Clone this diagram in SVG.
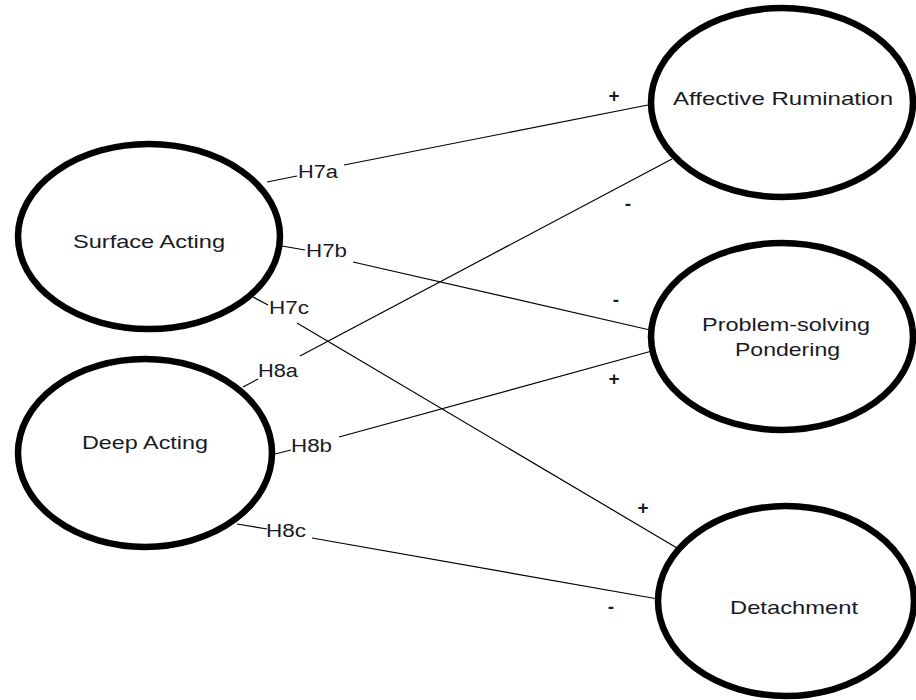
<svg xmlns="http://www.w3.org/2000/svg" width="916" height="700" viewBox="0 0 916 700">
<style>
.node ellipse{fill:#fff;stroke:#000;stroke-width:6.5}
text{font-family:"Liberation Sans",Arial,sans-serif;font-size:18.5px;fill:#1a1a24}
.lbl{font-size:18px}
.sg{font-size:19px;font-weight:bold}
.conn line{stroke:#000;stroke-width:1.2}
</style>
<rect width="916" height="700" fill="#fff"/>
<g id="connectors" class="conn">
<line x1="267" y1="182" x2="297" y2="176"/>
<line x1="344" y1="165" x2="648" y2="105"/>
<line x1="282" y1="246" x2="305" y2="250"/>
<line x1="353" y1="262" x2="650" y2="330"/>
<line x1="253" y1="297" x2="268" y2="305"/>
<line x1="297" y1="323" x2="677" y2="548"/>
<line x1="243" y1="387" x2="258" y2="379"/>
<line x1="300" y1="356" x2="672" y2="159"/>
<line x1="275" y1="454" x2="291" y2="450"/>
<line x1="339" y1="437" x2="652" y2="351"/>
<line x1="237" y1="524" x2="267" y2="529"/>
<line x1="312" y1="538" x2="658" y2="599"/>
<text class="lbl" x="298" y="178" textLength="40" lengthAdjust="spacingAndGlyphs">H7a</text>
<text class="lbl" x="306" y="257" textLength="41" lengthAdjust="spacingAndGlyphs">H7b</text>
<text class="lbl" x="269" y="314" textLength="40" lengthAdjust="spacingAndGlyphs">H7c</text>
<text class="lbl" x="258" y="377" textLength="40" lengthAdjust="spacingAndGlyphs">H8a</text>
<text class="lbl" x="291" y="452" textLength="41" lengthAdjust="spacingAndGlyphs">H8b</text>
<text class="lbl" x="266" y="537" textLength="40" lengthAdjust="spacingAndGlyphs">H8c</text>
<text class="sg" x="614" y="102" text-anchor="middle">+</text>
<text class="sg" x="628" y="210" text-anchor="middle">-</text>
<text class="sg" x="616" y="306" text-anchor="middle">-</text>
<text class="sg" x="614" y="385" text-anchor="middle">+</text>
<text class="sg" x="643" y="514" text-anchor="middle">+</text>
<text class="sg" x="611" y="613" text-anchor="middle">-</text>
</g>
<g id="surface-acting" class="node">
<ellipse cx="149" cy="236.5" rx="131" ry="92.5"/>
<text x="73" y="248" textLength="152" lengthAdjust="spacingAndGlyphs">Surface Acting</text>
</g>
<g id="deep-acting" class="node">
<ellipse cx="145" cy="453" rx="127" ry="94"/>
<text x="82" y="449" textLength="126" lengthAdjust="spacingAndGlyphs">Deep Acting</text>
</g>
<g id="affective-rumination" class="node">
<ellipse cx="782" cy="102.5" rx="131" ry="94.5"/>
<text x="673" y="105" textLength="220" lengthAdjust="spacingAndGlyphs">Affective Rumination</text>
</g>
<g id="problem-solving-pondering" class="node">
<ellipse cx="782" cy="336.5" rx="131" ry="93.5"/>
<text x="702" y="331" textLength="168" lengthAdjust="spacingAndGlyphs">Problem-solving</text>
<text x="735" y="356" textLength="105" lengthAdjust="spacingAndGlyphs">Pondering</text>
</g>
<g id="detachment" class="node">
<ellipse cx="786" cy="601" rx="128" ry="95"/>
<text x="730" y="614" textLength="128" lengthAdjust="spacingAndGlyphs">Detachment</text>
</g>
</svg>
